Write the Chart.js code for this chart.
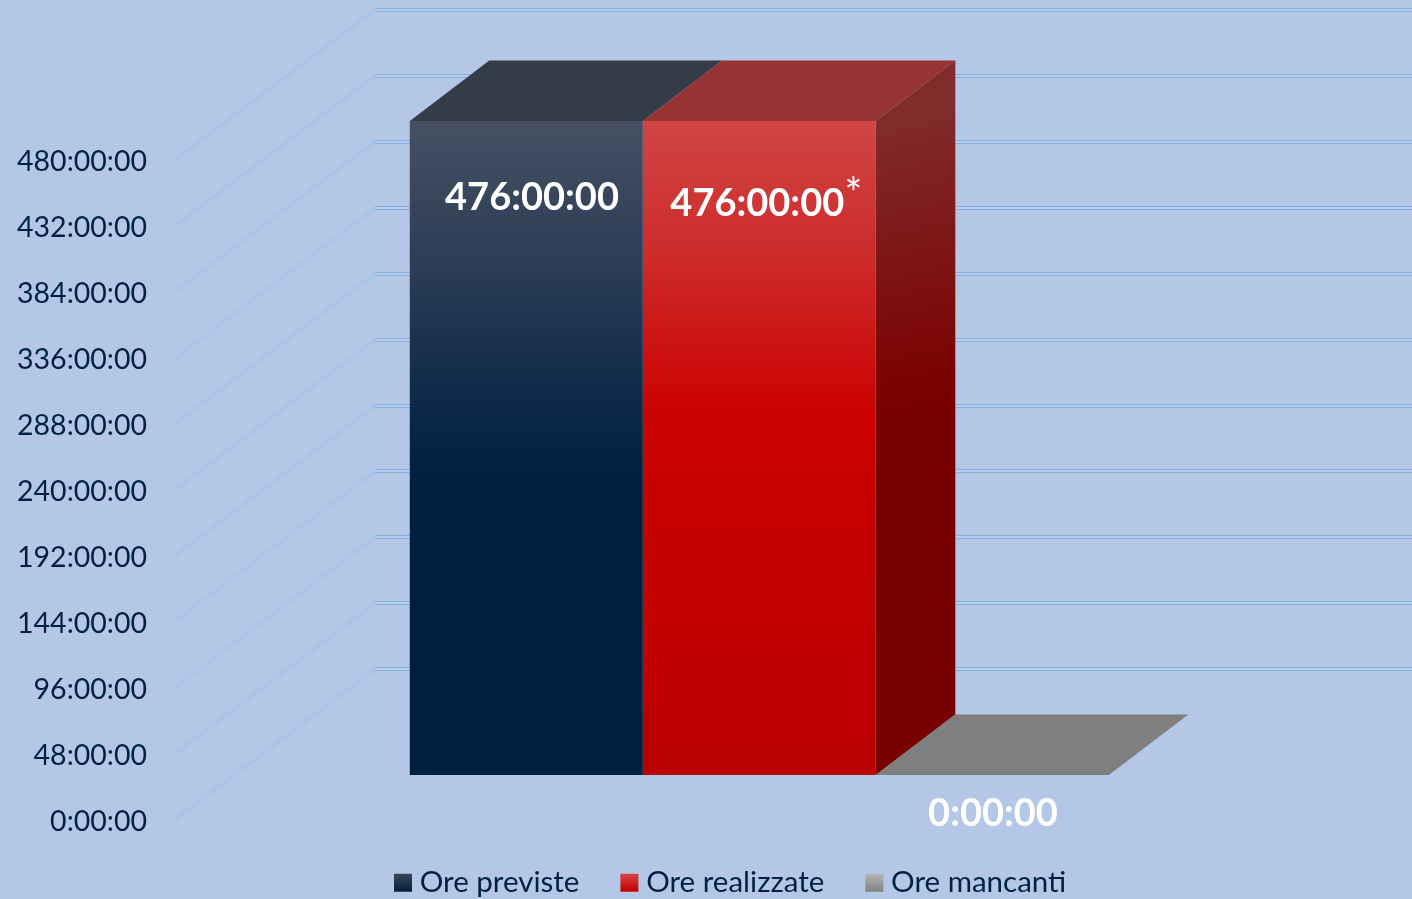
<!DOCTYPE html>
<html lang="it">
<head>
    <meta charset="UTF-8">
    <title>Ore previste, realizzate e mancanti</title>
    <script src="https://cdn.jsdelivr.net/npm/chart.js"></script>
    <style>
        html, body {
            margin: 0;
            padding: 0;
            background-color: #b4c7e7;
        }
        canvas {
            display: block;
        }
    </style>
</head>
<body>

    <canvas id="hoursChart" width="1412" height="899"></canvas>

    <script>
        // Data, in hours
        const categories = ["Ore"];
        const seriesNames = ["Ore previste", "Ore realizzate", "Ore mancanti"];
        const orePreviste = [476];
        const oreRealizzate = [476];
        const oreMancanti = [0];
        const tickLabels = ["0:00:00", "48:00:00", "96:00:00", "144:00:00", "192:00:00", "240:00:00",
            "288:00:00", "336:00:00", "384:00:00", "432:00:00", "480:00:00"];
        const barLabels = ["476:00:00", "476:00:00", "0:00:00"];

        // Fake 3D: the bars stand this far behind the axis plane, the wall further back
        const barShift = { x: 60.3, y: -44.5 };
        const barDepth = { x: 79.5, y: -60.5 };
        const wallDepth = { x: 200, y: -150.2 };
        const textColor = "#002142";
        const font = "Lato, 'Open Sans', sans-serif";

        const faces = [
            {
                front: [[0, "#465062"], [0.22, "#2c3d57"], [0.45, "#0a2747"], [0.55, "#002041"], [1, "#001e3e"]],
                top: "#353c48",
                side: [[0, "#2a3340"], [1, "#00142b"]],
                legend: [[0, "#3b4656"], [1, "#001e3e"]]
            },
            {
                front: [[0, "#d04545"], [0.2, "#cd2c2b"], [0.45, "#cb0100"], [1, "#ba0000"]],
                top: "#983333",
                side: [[0, "#802c2b"], [0.75, "#7b0000"], [1, "#780000"]],
                legend: [[0, "#d84040"], [1, "#c00000"]]
            },
            {
                front: [[0, "#7f7f7f"], [1, "#7f7f7f"]],
                top: "#7f7f7f",
                side: [[0, "#6f6f6f"], [1, "#6f6f6f"]],
                legend: [[0, "#b4b4b4"], [1, "#808080"]]
            }
        ];

        function makeGradient(ctx, x0, y0, x1, y1, stops) {
            const g = ctx.createLinearGradient(x0, y0, x1, y1);
            stops.forEach(s => g.addColorStop(s[0], s[1]));
            return g;
        }

        function frontFill(index) {
            return function (context) {
                const y = context.chart.scales.y;
                // scales have no pixels yet on the first pass
                if (!y || !Number.isFinite(y.getPixelForValue(476))) return faces[index].top;
                return makeGradient(context.chart.ctx, 0, y.getPixelForValue(476), 0, y.getPixelForValue(0), faces[index].front);
            };
        }

        function strokeLine(ctx, drawPath, dark, darkWidth, light, lightWidth) {
            ctx.beginPath();
            drawPath();
            ctx.strokeStyle = dark;
            ctx.lineWidth = darkWidth;
            ctx.stroke();
            ctx.strokeStyle = light;
            ctx.lineWidth = lightWidth;
            ctx.stroke();
        }

        const threeD = {
            id: "threeD",
            afterLayout(chart) {
                // legend sits off-centre in the original
                chart.legend.left = 353;
                chart.legend.top = 820;
            },
            beforeDraw(chart) {
                const legend = chart.legend;
                const y = legend.top + legend.options.labels.padding;
                legend.legendItems.forEach((item, i) => {
                    item.fillStyle = makeGradient(chart.ctx, 0, y + 6, 0, y + 24, faces[i].legend);
                    item.strokeStyle = "rgba(0,0,0,0)";
                    item.lineWidth = 0;
                });
            },
            beforeDatasetsDraw(chart) {
                const ctx = chart.ctx;
                const yScale = chart.scales.y;
                const area = chart.chartArea;

                // walls: diagonal from the axis, then along the back
                yScale.ticks.forEach(tick => {
                    const py = yScale.getPixelForValue(tick.value);
                    const backY = Math.round(py + wallDepth.y);
                    strokeLine(ctx, () => {
                        ctx.moveTo(area.left + wallDepth.x, backY);
                        ctx.lineTo(chart.width, backY);
                    }, "#92abcf", 4, "#aecff8", 2);
                    strokeLine(ctx, () => {
                        ctx.moveTo(area.left, py);
                        ctx.lineTo(area.left + wallDepth.x, backY);
                    }, "#96b0d6", 2.4, "#b6d6fc", 1.2);
                });

                ctx.save();
                ctx.translate(barShift.x, barShift.y);

                chart.data.datasets.forEach((ds, i) => {
                    const bar = chart.getDatasetMeta(i).data[0];
                    const nextMeta = chart.getDatasetMeta(i + 1);
                    const next = nextMeta && nextMeta.data[0];
                    const left = bar.x - bar.width / 2;
                    const right = bar.x + bar.width / 2;

                    // right hand side, unless the next bar hides it
                    if (!next || next.y > bar.y) {
                        ctx.beginPath();
                        ctx.moveTo(right, bar.y);
                        ctx.lineTo(right + barDepth.x, bar.y + barDepth.y);
                        ctx.lineTo(right + barDepth.x, bar.base + barDepth.y);
                        ctx.lineTo(right, bar.base);
                        ctx.closePath();
                        ctx.fillStyle = makeGradient(ctx, right, bar.y, right + barDepth.x, bar.y + (bar.base - bar.y) * 0.55, faces[i].side);
                        ctx.fill();
                    }

                    // top
                    ctx.beginPath();
                    ctx.moveTo(left, bar.y);
                    ctx.lineTo(right, bar.y);
                    ctx.lineTo(right + barDepth.x, bar.y + barDepth.y);
                    ctx.lineTo(left + barDepth.x, bar.y + barDepth.y);
                    ctx.closePath();
                    ctx.fillStyle = faces[i].top;
                    ctx.fill();
                });
                // stays translated for the front faces, restored below
            },
            afterDatasetsDraw(chart) {
                const ctx = chart.ctx;
                ctx.restore();

                ctx.save();
                ctx.fillStyle = "#ffffff";
                ctx.textAlign = "center";
                ctx.textBaseline = "middle";
                ctx.font = "bold 38px " + font;

                const offsets = [[5.7, 77], [-2, 83], [0.7, 39]];
                chart.data.datasets.forEach((ds, i) => {
                    const bar = chart.getDatasetMeta(i).data[0];
                    const anchorY = i === 2 ? bar.base : bar.y;
                    ctx.fillText(barLabels[i], bar.x + barShift.x + offsets[i][0], anchorY + barShift.y + offsets[i][1]);
                });

                // footnote mark after the second label
                const second = chart.getDatasetMeta(1).data[0];
                ctx.font = "42px " + font;
                ctx.fillText("*", second.x + barShift.x + 94, second.y + barShift.y + 73);
                ctx.restore();
            }
        };

        const chart = new Chart(document.getElementById("hoursChart").getContext("2d"), {
            type: "bar",
            data: {
                labels: categories,
                datasets: [
                    { label: seriesNames[0], data: orePreviste, backgroundColor: frontFill(0) },
                    { label: seriesNames[1], data: oreRealizzate, backgroundColor: frontFill(1) },
                    { label: seriesNames[2], data: oreMancanti, backgroundColor: frontFill(2) }
                ]
            },
            options: {
                responsive: false,
                animation: false,
                events: [],
                barPercentage: 1,
                categoryPercentage: 0.667,
                layout: {
                    padding: { top: 160, right: 189, bottom: 0, left: 0 }
                },
                scales: {
                    x: { display: false },
                    y: {
                        min: 0,
                        max: 480,
                        afterFit(scale) { scale.width = 175; },
                        border: { display: false },
                        grid: { display: false },
                        ticks: {
                            stepSize: 48,
                            padding: 20,
                            labelOffset: 2,
                            color: textColor,
                            font: { family: font, size: 28.5 },
                            callback: (value, i) => tickLabels[i]
                        }
                    }
                },
                plugins: {
                    tooltip: { enabled: false },
                    legend: {
                        position: "bottom",
                        align: "start",
                        maxHeight: 79.5,
                        labels: {
                            usePointStyle: true,
                            pointStyle: "rect",
                            boxWidth: 4,
                            boxHeight: 18,
                            padding: 48,
                            color: textColor,
                            font: { family: font, size: 29.5 }
                        }
                    }
                }
            },
            plugins: [threeD]
        });
    </script>

</body>
</html>
